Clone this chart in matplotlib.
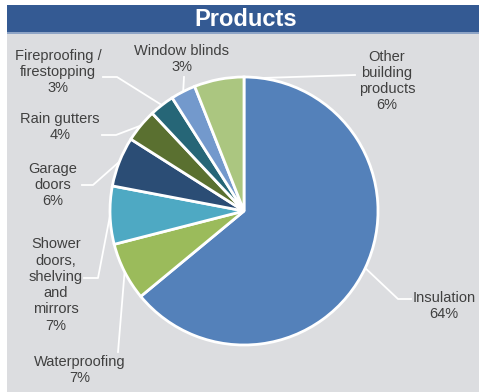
import numpy as np
import matplotlib.pyplot as plt
from matplotlib.patches import Rectangle

# product mix (% of sales)
products = ['Insulation', 'Waterproofing', 'Shower\ndoors,\nshelving\nand\nmirrors',
            'Garage\ndoors', 'Rain gutters', 'Fireproofing /\nfirestopping',
            'Window blinds', 'Other\nbuilding\nproducts']
shares = [64, 7, 7, 6, 4, 3, 3, 6]
colors = ['#5481ba', '#9bbb5b', '#4ea9c3', '#2b4d75', '#5a7030',
          '#266677', '#7399cc', '#abc680']

W, H = 479, 392
CX, CY, R = 244, 211, 134  # pie centre / radius in pixels


def px(x):
    return (x - CX) / R


def py(y):
    return (CY - y) / R


fig = plt.figure(figsize=(W / 100, H / 100), dpi=100)
fig.patch.set_facecolor('white')

# blue title band
fig.patches.append(Rectangle((7 / W, 1 - 33 / H), 1 - 7 / W, 28 / H,
                             transform=fig.transFigure, facecolor='#345a93',
                             edgecolor='none'))
fig.patches.append(Rectangle((7 / W, 1 - 34 / H), 1 - 7 / W, 1.5 / H,
                             transform=fig.transFigure, facecolor='#8ea4c6',
                             edgecolor='none'))
fig.text(246 / W, 1 - 19 / H, 'Products', color='white', fontsize=17,
         fontweight='bold', family='Liberation Sans', ha='center', va='center')

ax = fig.add_axes([7 / W, 0, 1 - 7 / W, 1 - 34 / H])

wedges, _ = ax.pie(shares, colors=colors, startangle=90, counterclock=False,
                   wedgeprops=dict(edgecolor='white', linewidth=2))

# pie() resets these, so set them afterwards
ax.set_aspect('auto')
ax.set_frame_on(True)
ax.set_facecolor('#dcdde0')
ax.set_xlim(px(7), px(W))
ax.set_ylim(py(H), py(34))
for s in ax.spines.values():
    s.set_visible(False)

# label centres and leader elbows (pixels)
label_pos = [(444, 306), (80, 370), (56, 285), (53, 185),
             (60, 127), (58, 72), (182, 59), (387, 81)]
elbows = [[(411, 299), (398, 299)],
          [(118, 352)],
          [(84, 278), (98, 278)],
          [(82, 185), (93, 185)],
          [(102, 135), (116, 135)],
          [(103, 77), (117, 77)],
          [(184, 77)],
          [(355, 75)]]

for w, name, val, pos, elb in zip(wedges, products, shares, label_pos, elbows):
    mid = np.deg2rad((w.theta1 + w.theta2) / 2)
    xs = [px(p[0]) for p in elb] + [np.cos(mid)]
    ys = [py(p[1]) for p in elb] + [np.sin(mid)]
    ax.plot(xs, ys, color='white', lw=1.3, zorder=0.5)
    ax.text(px(pos[0]), py(pos[1]), f'{name}\n{val}%', ha='center', va='center',
            fontsize=10.5, color='#404040', family='Liberation Sans', linespacing=1.2)

fig.savefig('out.png', dpi=100)
